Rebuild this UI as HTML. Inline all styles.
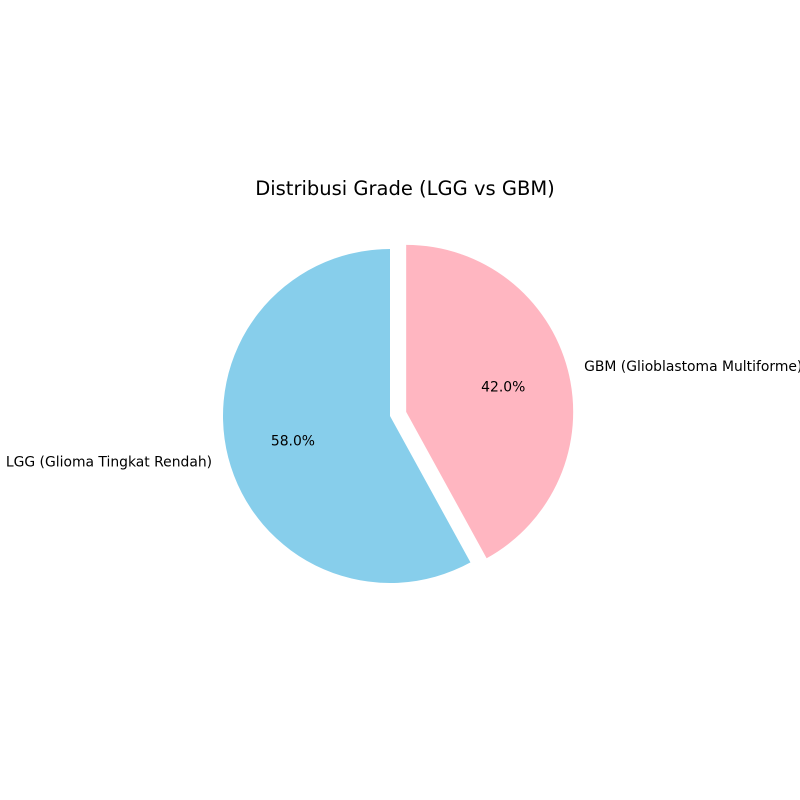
<!DOCTYPE html>
<html><head><meta charset="utf-8"><style>
html,body{margin:0;padding:0;background:#fff;}
svg{display:block;font-family:"DejaVu Sans","Liberation Sans",sans-serif;}
</style></head><body>
<svg id="chart" width="800" height="800" viewBox="0 0 800 800">
<text x="405" y="195" text-anchor="middle" font-size="19.5" fill="#000">Distribusi Grade (LGG vs GBM)</text>
<g id="slices"></g>
</svg>
<script>
const categories = ["LGG (Glioma Tingkat Rendah)", "GBM (Glioblastoma Multiforme)"];
const values = [58, 42];
const colors = ["#87ceeb", "#ffb6c1"];
const explode = [0, 0.1];

const cx = 390, cy = 416, R = 167, startAngle = 90;
const svg = document.getElementById('slices');
const NS = 'http://www.w3.org/2000/svg';
const total = values.reduce((a, b) => a + b, 0);
let a0 = startAngle;
function pt(x, y, r, deg) { const t = deg * Math.PI / 180; return [x + r * Math.cos(t), y - r * Math.sin(t)]; }
values.forEach((v, i) => {
  const sweep = v / total * 360;
  const a1 = a0 + sweep, mid = (a0 + a1) / 2;
  const [ox, oy] = pt(cx, cy, explode[i] * R, mid);
  const [x0, y0] = pt(ox, oy, R, a0);
  const [x1, y1] = pt(ox, oy, R, a1);
  const large = sweep > 180 ? 1 : 0;
  const p = document.createElementNS(NS, 'path');
  p.setAttribute('d', `M${ox},${oy} L${x0},${y0} A${R},${R} 0 ${large} 0 ${x1},${y1} Z`);
  p.setAttribute('fill', colors[i]);
  
  
  svg.appendChild(p);
  const [lx, ly] = pt(ox, oy, 1.1 * R, mid);
  const lab = document.createElementNS(NS, 'text');
  lab.setAttribute('x', lx); lab.setAttribute('y', ly + 4.7);
  lab.setAttribute('font-size', '13.9');
  lab.setAttribute('text-anchor', Math.cos(mid * Math.PI / 180) < 0 ? 'end' : 'start');
  lab.textContent = categories[i];
  
  
  svg.appendChild(lab);
  const [px, py] = pt(ox, oy, 0.6 * R, mid);
  const pc = document.createElementNS(NS, 'text');
  pc.setAttribute('x', px); pc.setAttribute('y', py + 4.7);
  pc.setAttribute('font-size', '13.9');
  pc.setAttribute('text-anchor', 'middle');
  pc.textContent = (v / total * 100).toFixed(1) + '%';
  
  
  svg.appendChild(pc);
  a0 = a1;
});
</script>
</body></html>
